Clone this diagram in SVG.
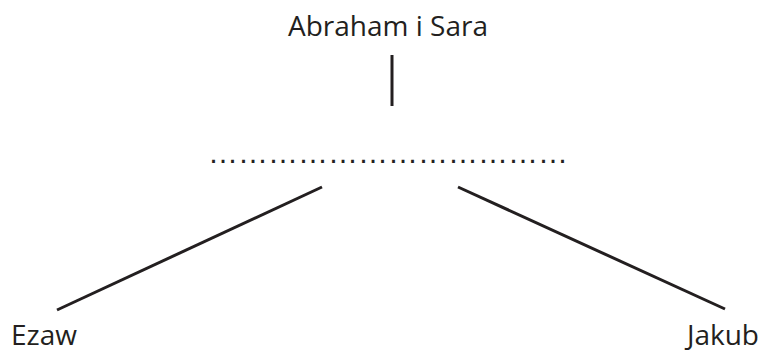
<svg xmlns="http://www.w3.org/2000/svg" width="761" height="353" viewBox="0 0 761 353">
<style>
.t{font-family:"Open Sans","Noto Sans","DejaVu Sans",sans-serif;font-size:28px;fill:#231f20}
.d{font-family:"Liberation Sans",sans-serif;font-size:30px;fill:#231f20}
.c{stroke:#231f20;stroke-width:3;fill:none}
</style>
<rect width="761" height="353" fill="#fff"/>
<g id="parents"><text class="t" x="388" y="36" text-anchor="middle">Abraham i Sara</text></g>
<g id="children-dots"><text class="d" x="208" y="163">&#8230;&#8230;&#8230;&#8230;&#8230;&#8230;&#8230;&#8230;&#8230;&#8230;&#8230;&#8230;</text></g>
<g id="ezaw"><text class="t" x="11" y="345">Ezaw</text></g>
<g id="jakub"><text class="t" x="759" y="345" text-anchor="end">Jakub</text></g>
<g id="connectors">
<line class="c" x1="392" y1="55" x2="392" y2="106"/>
<line class="c" x1="57" y1="310" x2="322" y2="187"/>
<line class="c" x1="458" y1="187" x2="725" y2="309"/>
</g>
</svg>
